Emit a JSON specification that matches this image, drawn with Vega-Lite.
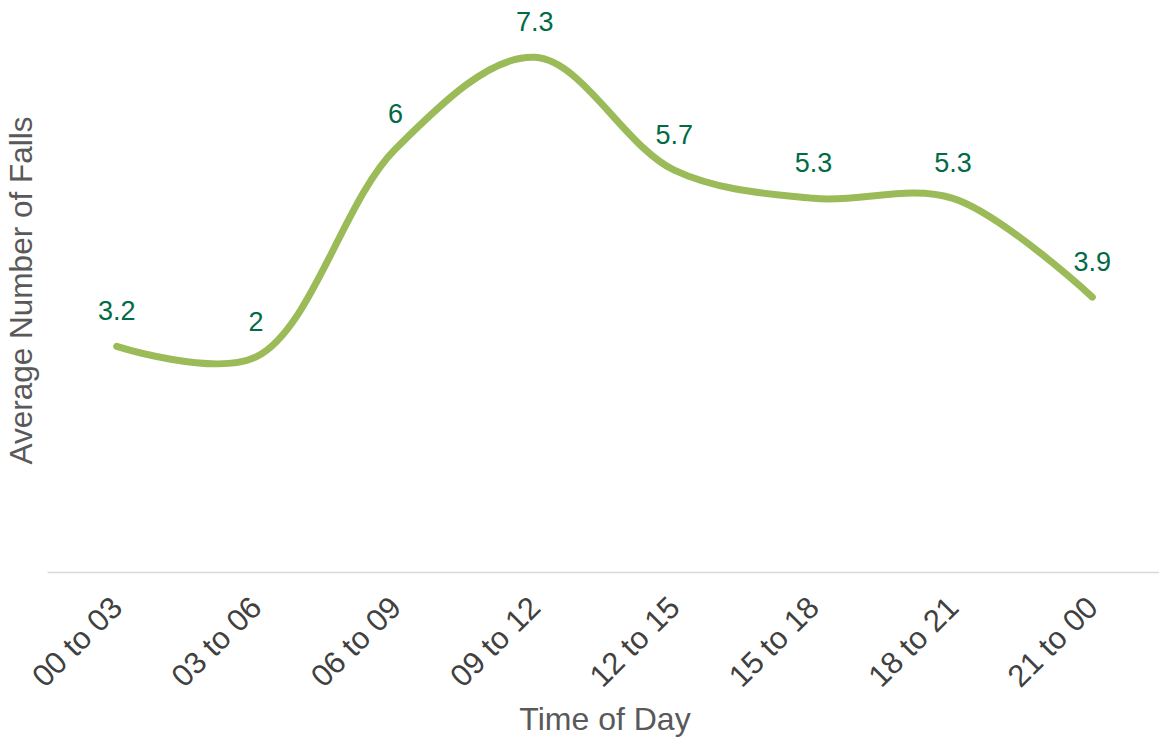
{
  "$schema": "https://vega.github.io/schema/vega-lite/v6.json",
  "autosize": "none",
  "width": 1115,
  "height": 564,
  "padding": {"left": 47, "top": 8, "right": 0, "bottom": 166},
  "background": "white",
  "config": {"view": {"stroke": null}, "font": "Liberation Sans"},
  "data": {
    "values": [
      {"time": "00 to 03", "falls": 3.2, "label": "3.2"},
      {"time": "03 to 06", "falls": 3.05, "label": "2"},
      {"time": "06 to 09", "falls": 6.0, "label": "6"},
      {"time": "09 to 12", "falls": 7.3, "label": "7.3"},
      {"time": "12 to 15", "falls": 5.7, "label": "5.7"},
      {"time": "15 to 18", "falls": 5.3, "label": "5.3"},
      {"time": "18 to 21", "falls": 5.3, "label": "5.3"},
      {"time": "21 to 00", "falls": 3.9, "label": "3.9"}
    ]
  },
  "encoding": {
    "x": {
      "field": "time", "type": "ordinal", "sort": null,
      "scale": {"type": "point", "padding": 0.5},
      "axis": {
        "title": "Time of Day", "titleFontSize": 32, "titleFontWeight": "normal",
        "titleColor": "#595959", "titlePadding": 12,
        "labelAngle": -45, "labelFontSize": 31, "labelColor": "#404040",
        "labelPadding": 20, "labelOffset": -10, "ticks": false, "domainColor": "#D9D9D9",
        "domainWidth": 1.5, "grid": false
      }
    },
    "y": {
      "field": "falls", "type": "quantitative",
      "scale": {"domain": [0, 8], "nice": false, "zero": true},
      "axis": {
        "title": "Average Number of Falls", "titleFontSize": 31.5,
        "titleFontWeight": "normal", "titleColor": "#595959",
        "titlePadding": 9, "labels": false, "ticks": false,
        "domain": false, "grid": false
      }
    }
  },
  "layer": [
    {
      "mark": {"type": "line", "interpolate": "catmull-rom", "color": "#9BBB59", "strokeWidth": 7, "strokeCap": "round"}
    },
    {
      "mark": {"type": "text", "dy": -34, "fontSize": 27, "color": "#006B45", "baseline": "middle"},
      "encoding": {"text": {"field": "label"}}
    }
  ]
}
